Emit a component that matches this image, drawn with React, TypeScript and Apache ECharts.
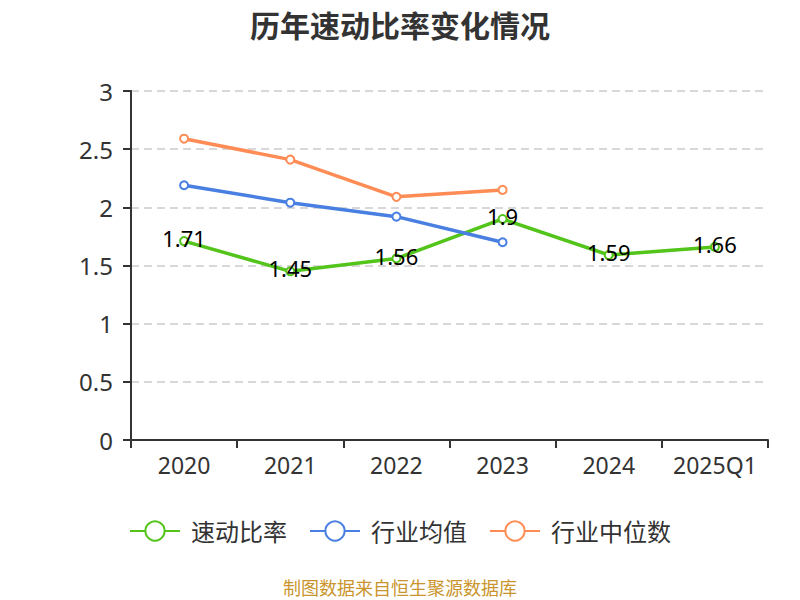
import React, { useEffect, useRef } from "react";
import * as echarts from "echarts";

const categories = ["2020", "2021", "2022", "2023", "2024", "2025Q1"];
const quickRatio = [1.71, 1.45, 1.56, 1.9, 1.59, 1.66];
const industryMean = [2.19, 2.04, 1.92, 1.7];
const industryMedian = [2.59, 2.41, 2.09, 2.15];
const seriesNames = ["速动比率", "行业均值", "行业中位数"];
const colors = ["#52c41a", "#4a7fe2", "#ff8c55"];
const titleText = "历年速动比率变化情况";
const footerText = "制图数据来自恒生聚源数据库";

const FONT = "'Noto Sans', 'Noto Sans CJK SC', sans-serif";

export default function App() {
  const ref = useRef<HTMLDivElement>(null);
  useEffect(() => {
    document.body.style.margin = "0";
    const chart = echarts.init(ref.current!, undefined, { renderer: "svg" });
    const mkSeries = (name: string, data: number[], color: string, withLabel: boolean) => ({
      name,
      type: "line",
      data,
      symbol: "emptyCircle",
      symbolSize: 8,
      showSymbol: true,
      itemStyle: { color, borderWidth: 2 },
      lineStyle: { color, width: 3.5 },
      label: withLabel
        ? {
            show: true,
            position: "inside",
            offset: [0, -3],
            color: "#000",
            fontSize: 22,
            fontFamily: FONT,
          }
        : { show: false },
      emphasis: { disabled: true },
    });
    chart.setOption({
      animation: false,
      color: colors,
      title: {
        text: titleText,
        left: "center",
        top: 5,
        textStyle: { fontSize: 30, fontWeight: "bold", color: "#333", fontFamily: FONT },
      },
      legend: {
        bottom: 52,
        left: "center",
        itemWidth: 50,
        itemHeight: 24,
        itemGap: 22,
        textStyle: { fontSize: 24, color: "#333", fontFamily: FONT, padding: [0, 0, 0, 6] },
        data: seriesNames,
      },
      grid: { left: 131, right: 32, top: 91, bottom: 160, containLabel: false },
      xAxis: {
        type: "category",
        data: categories,
        boundaryGap: true,
        axisLine: { lineStyle: { color: "#333", width: 2 } },
        axisTick: { show: true, interval: 0, length: 8, lineStyle: { color: "#333", width: 2 } },
        axisLabel: { interval: 0, fontSize: 23, color: "#333", margin: 13, fontFamily: FONT },
      },
      yAxis: {
        type: "value",
        min: 0,
        max: 3,
        interval: 0.5,
        axisLine: { show: true, lineStyle: { color: "#333", width: 2 } },
        axisTick: { show: true, length: 8, lineStyle: { color: "#333", width: 2 } },
        axisLabel: { fontSize: 24, color: "#333", margin: 18, fontFamily: FONT },
        splitLine: { lineStyle: { color: "#ccc", type: [8, 5], width: 1.5 } },
      },
      graphic: [
        {
          type: "text",
          left: "center",
          top: 579,
          style: { text: footerText, fontSize: 18, fill: "#c9952c", fontFamily: FONT },
        },
      ],
      series: [
        mkSeries(seriesNames[0], quickRatio, colors[0], true),
        mkSeries(seriesNames[1], industryMean, colors[1], false),
        mkSeries(seriesNames[2], industryMedian, colors[2], false),
      ],
    });
    return () => chart.dispose();
  }, []);
  return <div ref={ref} style={{ width: 800, height: 600 }} />;
}
